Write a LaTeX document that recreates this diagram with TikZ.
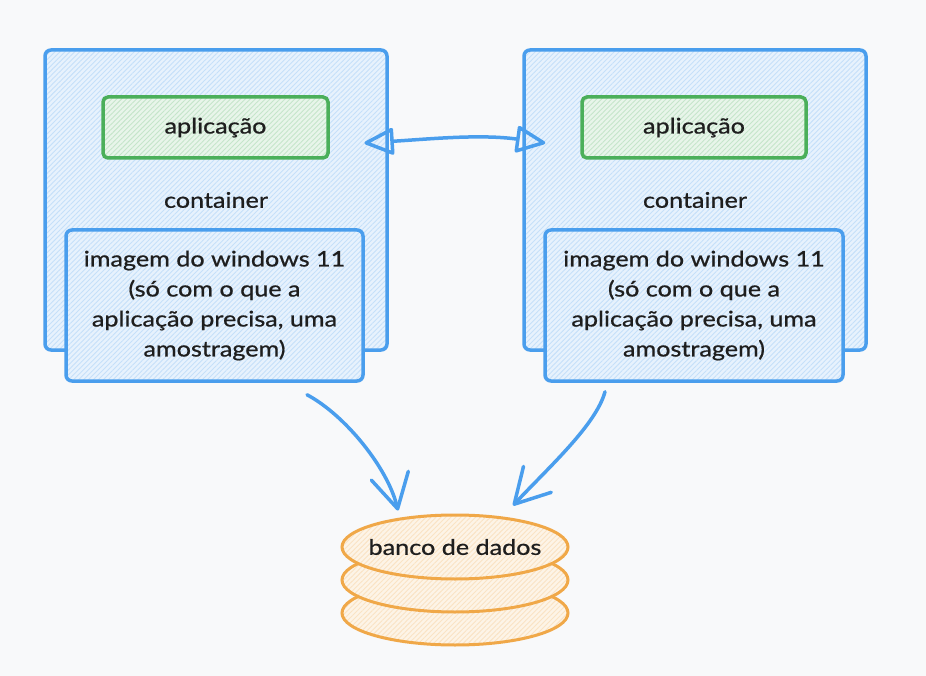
\documentclass[tikz,border=0pt]{standalone}
\usepackage{fontspec}
\setmainfont{Lato}[FakeStretch=1.17,FakeBold=0.8]
\usetikzlibrary{arrows.meta,patterns.meta,shapes.geometric}
\definecolor{bg}{HTML}{F8F9FA}
\definecolor{cblue}{HTML}{4A9EED}
\definecolor{cgreen}{HTML}{4BAF5A}
\definecolor{corange}{HTML}{F0A848}
\definecolor{ink}{HTML}{1E1E1E}
\begin{document}
\begin{tikzpicture}[x=1pt,y=-1pt,
  hatch/.style={preaction={fill=#1!13}, pattern={Lines[angle=45,distance=3.5pt,line width=0.9pt]}, pattern color=#1!32},
  txt/.style={text=ink, font=\fontsize{21.5}{30}\selectfont, align=center},
  box/.style={draw=cblue, line width=3.5pt, rounded corners=6pt, hatch=cblue, txt, inner sep=0pt},
  appbox/.style={draw=cgreen, line width=3.5pt, rounded corners=5pt, hatch=cgreen, txt, inner sep=0pt},
  dbell/.style={ellipse, draw=corange, line width=3pt, hatch=corange, inner sep=0pt, minimum width=226pt, minimum height=64pt},
  conn/.style={draw=cblue, line width=3.5pt, line cap=round, line join=round},
  dbl/.style={conn, {Triangle[open,length=32pt,width=28pt,round]}-{Triangle[open,length=32pt,width=28pt,round]}},
  barb/.style={conn, -{Straight Barb[length=34pt,width=38pt,round]}}
]
\useasboundingbox[fill=bg] (0,0) rectangle (926,676);

% containers
\node[box, minimum width=342pt, minimum height=300pt] (c1) at (216,200) {container};
\node[box, minimum width=342pt, minimum height=300pt] (c2) at (695,200) {container};

% application boxes
\node[appbox, minimum width=225pt, minimum height=61pt] (a1) at (215.5,127.5) {aplicação};
\node[appbox, minimum width=224pt, minimum height=61pt] (a2) at (694,127.5) {aplicação};

% image boxes
\node[box, minimum width=297pt, minimum height=151pt] (i1) at (214.5,305.5)
  {imagem do windows 11\\(só com o que a\\aplicação precisa, uma\\amostragem)};
\node[box, minimum width=298pt, minimum height=151pt] (i2) at (694,305.5)
  {imagem do windows 11\\(só com o que a\\aplicação precisa, uma\\amostragem)};

% database
\node[dbell] (db3) at (455,613) {};
\node[dbell] (db2) at (455,580) {};
\node[dbell, label={[txt]center:banco de dados}] (db) at (455,547) {};

% double arrow between containers
\draw[dbl] ([shift={(-23,-57)}]c1.east) .. controls (430,139) and (480,134) .. ([shift={(23,-57)}]c2.west);

% arrows to database
\draw[barb] ([shift={(92.5,12)}]i1.south) .. controls (345,415) and (388,468) .. ([shift={(-57,-3)}]db.north);
\draw[barb] ([shift={(-89,9)}]i2.south) .. controls (596,425) and (548,468) .. ([shift={(58,-8)}]db.north);
\end{tikzpicture}
\end{document}
